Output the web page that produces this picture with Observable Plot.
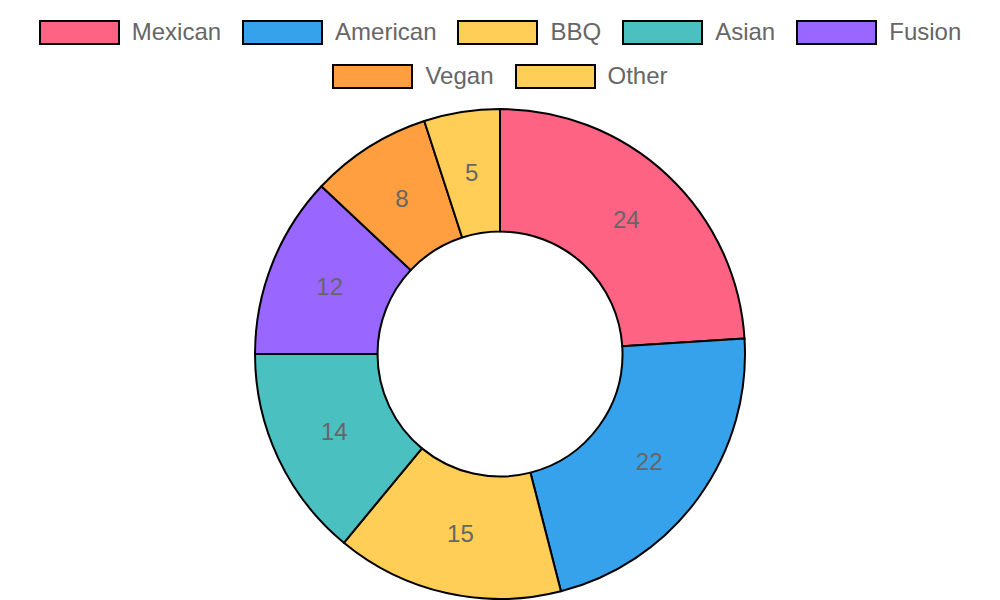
<!DOCTYPE html>
<html>
<head>
<meta charset="utf-8">
<script src="https://cdn.jsdelivr.net/npm/d3@7"></script>
<script src="https://cdn.jsdelivr.net/npm/@observablehq/plot@0.6"></script>
<style>
  html, body { margin: 0; padding: 0; background: #fff; }
  #wrap { width: 1000px; height: 600px; position: relative; overflow: hidden; }
  #legend { width: 1000px; height: 104px; box-sizing: border-box; padding-top: 10px;
            font-family: "Liberation Sans", Arial, sans-serif; font-size: 24px; color: #666; }
  .row { display: flex; justify-content: center; align-items: center; height: 44px; gap: 21px; }
  .item { display: flex; align-items: center; }
  .sw { width: 81px; height: 25px; box-sizing: border-box; border: 2px solid #000; margin-right: 12px; }
  #chart svg { display: block; }
</style>
</head>
<body>
<div id="wrap">
  <div id="legend"></div>
  <div id="chart"></div>
</div>
<script>
const categories = ["Mexican", "American", "BBQ", "Asian", "Fusion", "Vegan", "Other"];
const values = [24, 22, 15, 14, 12, 8, 5];
const colors = ["#FF6384", "#36A2EB", "#FFCE56", "#4BC0C0", "#9966FF", "#FF9F40", "#FFCE56"];
const legendRows = [[0, 1, 2, 3, 4], [5, 6]];

// Legend
const legend = document.getElementById("legend");
for (const r of legendRows) {
  const row = document.createElement("div");
  row.className = "row";
  for (const i of r) {
    const it = document.createElement("div");
    it.className = "item";
    const sw = document.createElement("div");
    sw.className = "sw";
    sw.style.background = colors[i];
    const t = document.createElement("span");
    t.textContent = categories[i];
    it.appendChild(sw); it.appendChild(t);
    row.appendChild(it);
  }
  legend.appendChild(row);
}

// Slices
const data = categories.map((c, i) => ({category: c, value: values[i], color: colors[i]}));
const arcs = d3.pie().sort(null).value(d => d.value)(data);
const cutout = 0.5;
const labels = arcs.map(a => {
  const m = (a.startAngle + a.endAngle) / 2;
  const r = (1 + cutout) / 2;
  return {x: r * Math.sin(m), y: r * Math.cos(m), text: String(a.data.value)};
});

const donut = (index, scales, values, dimensions, context) => {
  const cx = scales.x(0), cy = scales.y(0);
  const R = scales.x(1) - scales.x(0);
  const arcGen = d3.arc().innerRadius(R * cutout).outerRadius(R);
  const g = d3.create("svg:g").attr("transform", `translate(${cx},${cy})`);
  g.selectAll("path").data(arcs).join("path")
    .attr("d", arcGen)
    .attr("fill", d => d.data.color)
    .attr("stroke", "#000")
    .attr("stroke-width", 2)
    .attr("stroke-linejoin", "round");
  return g.node();
};

const plot = Plot.plot({
  width: 1000,
  height: 496,
  margin: 0,
  x: {domain: [-1, 1], range: [255, 745], axis: null},
  y: {domain: [-1, 1], range: [495, 5], axis: null},
  style: {background: "transparent"},
  marks: [
    donut,
    Plot.text(labels, {x: "x", y: "y", text: "text", fill: "#666", fontSize: 24,
      fontFamily: "Liberation Sans, Arial, sans-serif"})
  ]
});
document.getElementById("chart").appendChild(plot);
</script>
</body>
</html>
